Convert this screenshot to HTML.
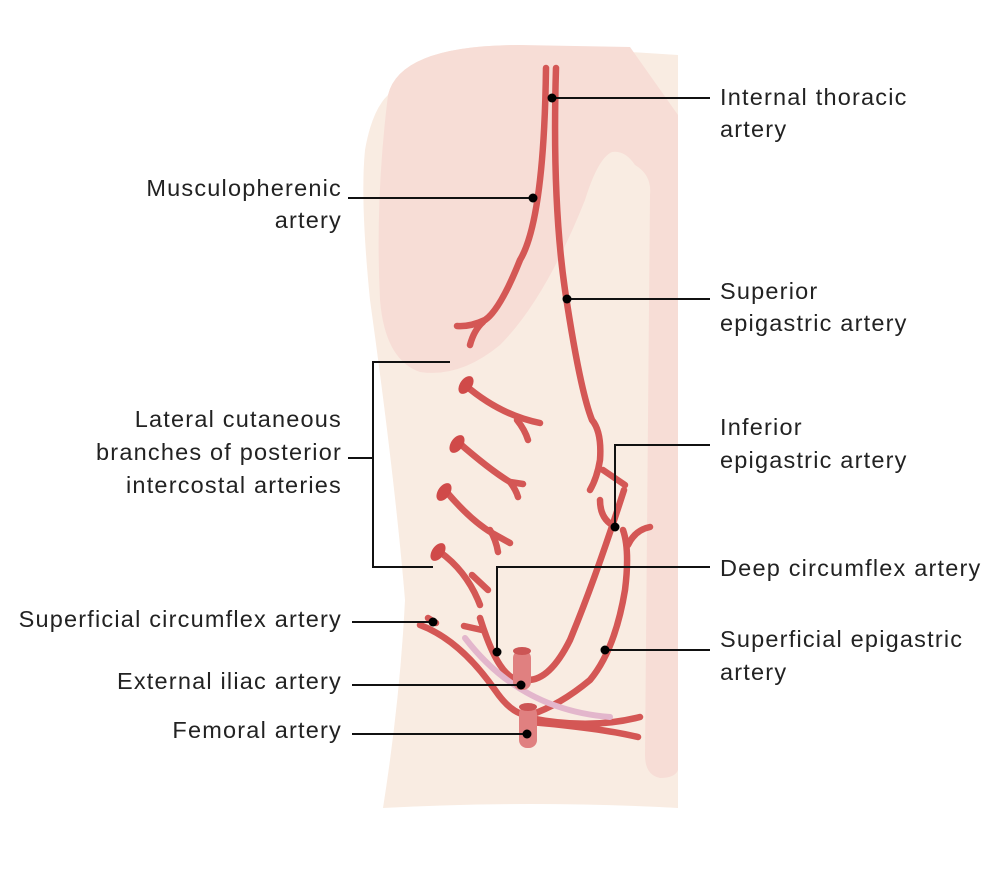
<!DOCTYPE html>
<html><head><meta charset="utf-8"><style>
body{margin:0;background:#fff;width:1000px;height:873px;overflow:hidden;position:relative;font-family:"Liberation Sans",sans-serif;color:#222}
.t{position:absolute;font-size:23.5px;line-height:32px;white-space:nowrap;letter-spacing:1.2px}
.r{text-align:right;right:658px}
svg{position:absolute;left:0;top:0}
</style></head><body>
<svg width="1000" height="873" viewBox="0 0 1000 873">
<path d="M388,95 Q400,45 520,45 L678,55 L678,808 Q530,800 383,808 Q400,700 405,600 Q395,480 370,300 Q360,200 365,150 Q372,110 388,95Z" fill="#f9ece2"/>
<path d="M388,95 Q400,45 520,45 L630,47 L678,115 L678,770 Q675,778 660,778 Q645,775 645,755 L650,195 Q652,175 635,165 Q625,150 612,152 Q598,158 585,200 Q545,300 500,345 Q460,378 420,372 Q385,360 380,300 Q375,200 388,95Z" fill="#f7ddd6"/>
<g fill="none" stroke="#d45755" stroke-width="6.5" stroke-linecap="round">
<path d="M546,68 Q544,220 520,260 Q500,310 485,320 Q470,327 457,326"/>
<path d="M483,322 Q474,330 470,345"/>
<path d="M556,68 Q552,200 565,290 Q580,390 592,420 Q602,432 600,460 Q597,478 590,490"/>
<path d="M603,470 L625,485"/>
<path d="M600,500 Q600,520 616,527"/>
<path d="M624,490 Q595,580 570,640 Q550,680 528,680"/>
<path d="M623,530 Q630,550 625,590 Q615,650 590,680 Q560,705 530,715"/>
<path d="M628,545 Q635,530 650,527"/>
<path d="M530,718 Q590,730 640,717"/>
<path d="M530,722 Q600,728 638,737"/>
<path d="M420,625 Q460,640 495,690 Q510,712 525,715"/>
<path d="M428,618 L436,623"/>
<path d="M480,618 Q490,650 500,665 Q510,680 520,680"/>
<path d="M464,626 L482,630"/>
<path d="M465,385 Q500,415 540,423"/>
<path d="M517,420 Q525,430 528,440"/>
<path d="M458,442 Q490,470 510,482 L523,484"/>
<path d="M510,482 Q516,490 518,497"/>
<path d="M445,490 Q470,520 492,533 L510,543"/>
<path d="M490,530 Q496,540 498,552"/>
<path d="M440,552 Q465,570 478,600 L480,605"/>
<path d="M472,575 L488,590"/>
</g>
<g fill="#d04a49"><ellipse cx="466" cy="385" rx="6" ry="10" transform="rotate(35 466 385)"/><ellipse cx="457" cy="444" rx="6" ry="10" transform="rotate(35 457 444)"/><ellipse cx="444" cy="492" rx="6" ry="10" transform="rotate(35 444 492)"/><ellipse cx="438" cy="552" rx="6" ry="10" transform="rotate(35 438 552)"/></g>
<path d="M465,638 Q520,710 610,717" fill="none" stroke="#e3b6cc" stroke-width="6" stroke-linecap="round"/>
<rect x="513" y="650" width="18" height="40" rx="8" fill="#e08080"/><ellipse cx="522" cy="651" rx="9" ry="4" fill="#cc5555"/>
<rect x="519" y="706" width="18" height="42" rx="8" fill="#e08080"/><ellipse cx="528" cy="707" rx="9" ry="4" fill="#cc5555"/>
<g fill="none" stroke="#111" stroke-width="2">
<path d="M552,98H710M348,198H533M567,299H710M450,362H373V567H433M348,458H373M710,445H615V527M710,567H497V652M605,650H710M352,622H433M352,685H521M352,734H527"/>
</g>
<g fill="#000"><circle cx="552" cy="98" r="4.5"/><circle cx="533" cy="198" r="4.5"/><circle cx="567" cy="299" r="4.5"/><circle cx="615" cy="527" r="4.5"/><circle cx="497" cy="652" r="4.5"/><circle cx="605" cy="650" r="4.5"/><circle cx="433" cy="622" r="4.5"/><circle cx="521" cy="685" r="4.5"/><circle cx="527" cy="734" r="4.5"/></g>
</svg>
<div class="t" style="left:720px;top:81px">Internal thoracic<br>artery</div>
<div class="t r" style="top:172px">Musculopherenic<br>artery</div>
<div class="t" style="left:720px;top:275px">Superior<br>epigastric artery</div>
<div class="t r" style="top:403px;line-height:33px">Lateral cutaneous<br>branches of posterior<br>intercostal arteries</div>
<div class="t" style="left:720px;top:411px;line-height:33px">Inferior<br>epigastric artery</div>
<div class="t" style="left:720px;top:552px">Deep circumflex artery</div>
<div class="t" style="left:720px;top:623px;line-height:33px">Superficial epigastric<br>artery</div>
<div class="t r" style="top:603px">Superficial circumflex artery</div>
<div class="t r" style="top:665px">External iliac artery</div>
<div class="t r" style="top:714px">Femoral artery</div>
</body></html>
